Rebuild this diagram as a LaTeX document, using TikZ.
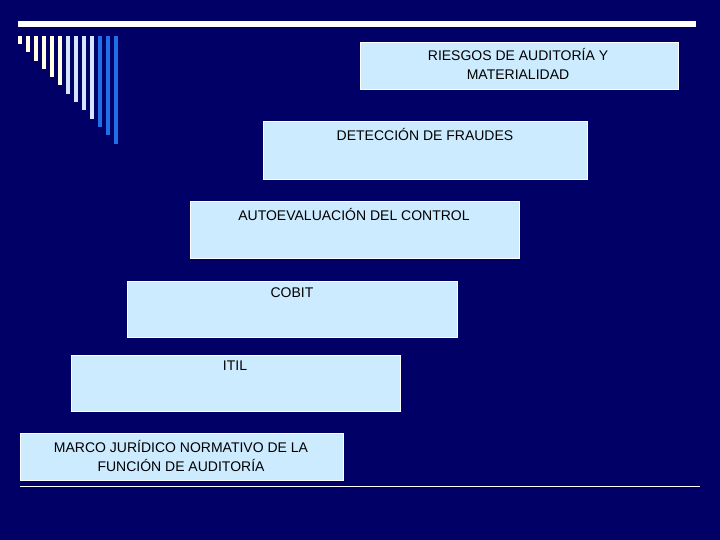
\documentclass[tikz,border=0pt]{standalone}
\usepackage{fontspec}
\setmainfont{Liberation Sans}
\begin{document}
\begin{tikzpicture}[x=1pt,y=-1pt,
  box/.style={fill=boxblue,draw=white,line width=0.6pt},
  lbl/.style={font=\fontsize{14}{19}\selectfont,align=center,inner sep=0pt,anchor=north,text=black}]
\definecolor{bg}{HTML}{000066}
\definecolor{boxblue}{HTML}{CCEBFF}
\definecolor{cy}{HTML}{FFFFE0}
\definecolor{cl}{HTML}{D6E4FF}
\definecolor{cb}{HTML}{1F6FE6}
\fill[bg] (0,0) rectangle (720,540);
\useasboundingbox (0,0) rectangle (720,540);
\fill[white] (18,21) rectangle (696,27);
\foreach \i in {0,...,12}{
  \pgfmathtruncatemacro{\c}{\i<6 ? 0 : (\i<10 ? 1 : 2)}
  \ifcase\c \def\col{cy}\or \def\col{cl}\or \def\col{cb}\fi
  \fill[\col] (18+8*\i,36) rectangle (22+8*\i,44+8.3*\i);
}
\draw[box] (360,42) rectangle (678,89); \node[lbl] (t1) at (518,48) {RIESGOS DE AUDITORÍA Y\\MATERIALIDAD};
\draw[box] (263,121) rectangle (587,179); \node[lbl] (t2) at (425,128) {DETECCIÓN DE FRAUDES};
\draw[box] (190,201) rectangle (519,258); \node[lbl] (t3) at (354,208) {AUTOEVALUACIÓN DEL CONTROL};
\draw[box] (127,281) rectangle (457,337); \node[lbl] (t4) at (292,288) {COBIT};
\draw[box] (71,355) rectangle (400,411); \node[lbl] (t5) at (235,361) {ITIL};
\draw[box] (20,433) rectangle (343,480); \node[lbl] (t6) at (181,440) {MARCO JURÍDICO NORMATIVO DE LA\\FUNCIÓN DE AUDITORÍA};
\coordinate (l1) at (20,486); \coordinate (l2) at (700,486);
\draw[white,line width=0.8pt] (l1) -- (l2);
\end{tikzpicture}
\end{document}
